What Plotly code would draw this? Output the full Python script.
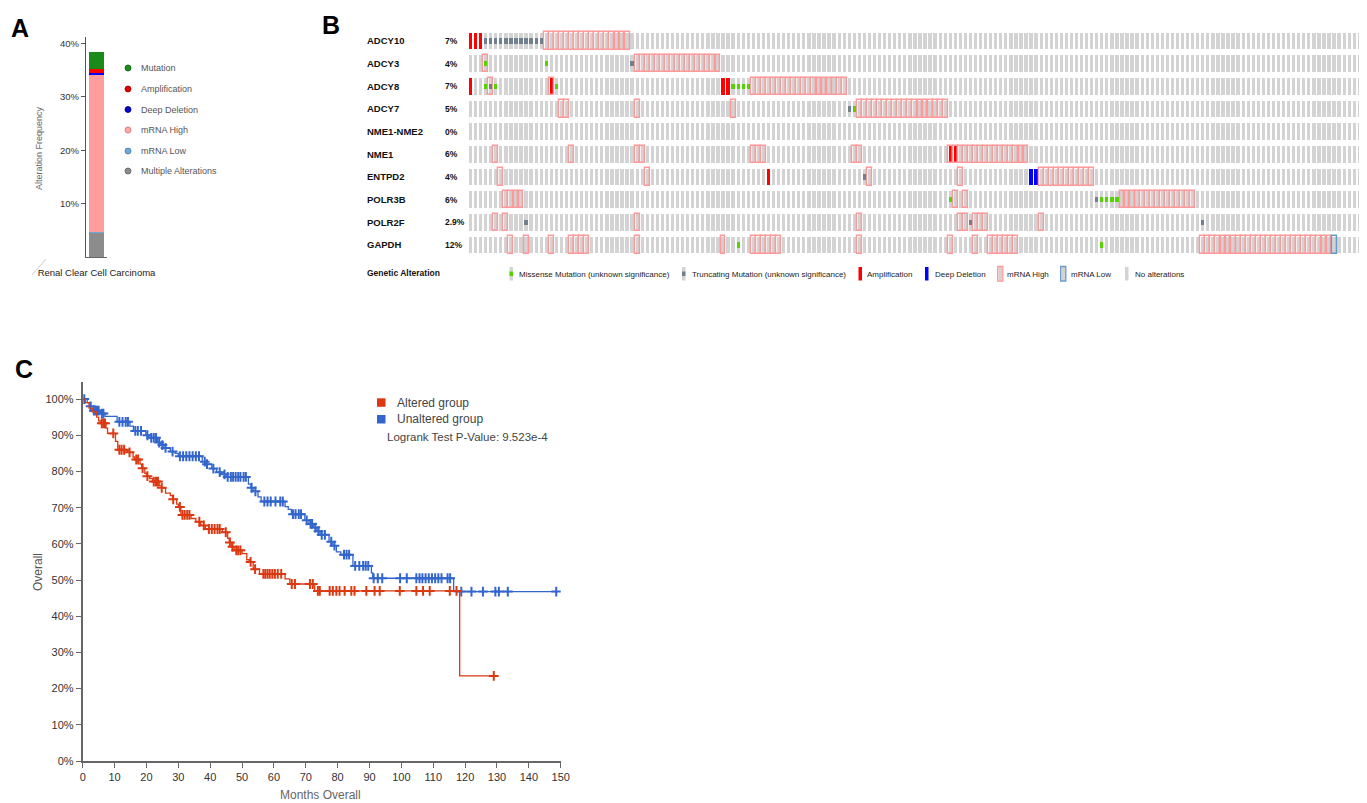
import numpy as np
import plotly.graph_objects as go

W, H = 1367, 803
FONT = "Liberation Sans, Arial, sans-serif"
OFF = 8  # page body margin in the browser


def px(x):
    return (x - OFF) / W


def py(y):
    return 1 - (y - OFF) / H


# ---------------- Panel A data ----------------
a_cancer = "Renal Clear Cell Carcinoma"
a_types = ["Multiple Alterations", "mRNA Low", "mRNA High", "Deep Deletion", "Amplification", "Mutation"]
a_freq = [4.6, 0.2, 29.4, 0.4, 0.7, 3.2]
a_colors = ["#8c8c8c", "#6fa8dc", "#ff9c9c", "#0000ff", "#ff0000", "#1a8a1a"]
a_legend = ["Mutation", "Amplification", "Deep Deletion", "mRNA High", "mRNA Low", "Multiple Alterations"]
a_legend_colors = ["#1a8a1a", "#e00000", "#0000cc", "#ffaaaa", "#6fa8dc", "#8c8c8c"]
a_legend_edges = ["#0b5e0b", "#900000", "#000080", "#d07070", "#3f78a8", "#5c5c5c"]
a_ticks = [10, 20, 30, 40]

# ---------------- Panel B data ----------------
genes = ["ADCY10", "ADCY3", "ADCY8", "ADCY7", "NME1-NME2", "NME1", "ENTPD2", "POLR3B", "POLR2F", "GAPDH"]
gene_pct = ["7%", "4%", "7%", "5%", "0%", "6%", "4%", "6%", "2.9%", "12%"]
n_samples = 178

amplification = {
    "ADCY10": [0, 1, 2],
    "ADCY8": [0, 16, 50, 51],
    "NME1": [95, 96],
    "ENTPD2": [59],
}
deep_deletion = {"ENTPD2": [111, 112]}
missense = {
    "ADCY3": [3, 15],
    "ADCY8": [3, 5, 17, 52, 53, 54, 55],
    "ADCY7": [76],
    "POLR3B": [95, 125, 126, 127, 128],
    "GAPDH": [53, 125],
}
truncating = {
    "ADCY10": [3, 4, 5, 6, 7, 8, 9, 10, 11, 12, 13, 14],
    "ADCY3": [32],
    "ADCY8": [4],
    "ADCY7": [75],
    "ENTPD2": [78],
    "POLR3B": [124],
    "POLR2F": [11, 99, 145],
}
mrna_high = {
    "ADCY10": [15, 16, 17, 18, 19, 20, 21, 22, 23, 24, 25, 26, 27, 28, 29, 30, 31],
    "ADCY3": [3, 33, 34, 35, 36, 37, 38, 39, 40, 41, 42, 43, 44, 45, 46, 47, 48, 49],
    "ADCY8": [4, 16, 56, 57, 58, 59, 60, 61, 62, 63, 64, 65, 66, 67, 68, 69, 70, 71, 72, 73, 74],
    "ADCY7": [18, 19, 33, 52, 77, 78, 79, 80, 81, 82, 83, 84, 85, 86, 87, 88, 89, 90, 91, 92, 93, 94],
    "NME1": [5, 20, 33, 34, 56, 57, 58, 76, 77, 95, 96, 97, 98, 99, 100, 101, 102, 103, 104, 105,
             106, 107, 108, 109, 110],
    "ENTPD2": [6, 35, 79, 97, 113, 114, 115, 116, 117, 118, 119, 120, 121, 122, 123],
    "POLR3B": [7, 8, 9, 10, 96, 98, 129, 130, 131, 132, 133, 134, 135, 136, 137, 138, 139, 140,
               141, 142, 143],
    "POLR2F": [5, 7, 33, 77, 97, 98, 100, 101, 102, 113],
    "GAPDH": [8, 11, 16, 20, 21, 22, 23, 33, 50, 56, 57, 58, 59, 60, 61, 77, 95, 100, 103, 104,
              105, 106, 107, 108, 145, 146, 147, 148, 149, 150, 151, 152, 153, 154, 155, 156, 157,
              158, 159, 160, 161, 162, 163, 164, 165, 166, 167, 168, 169, 170],
}
mrna_low = {"GAPDH": [171]}

b_legend = ["Missense Mutation (unknown significance)", "Truncating Mutation (unknown significance)",
            "Amplification", "Deep Deletion", "mRNA High", "mRNA Low", "No alterations"]

# ---------------- Panel C data (Kaplan-Meier) ----------------
alt_step_months = [0, 0.8, 2.0, 3.0, 4.4, 5.0, 5.5, 7.3, 7.8, 10.3, 11.0, 14.0, 15.8, 16.3, 18.0,
                   18.5, 19.5, 20.0, 21.0, 22.0, 24.0, 24.8, 26.0, 27.5, 28.2, 29.5, 30.0, 30.8,
                   34.0, 35.5, 37.0, 38.5, 43.8, 45.5, 46.0, 46.8, 47.5, 50.0, 51.5, 52.3, 53.5,
                   55.5, 63.5, 65.0, 72.8, 118.3]
alt_step_surv = [100, 99.0, 97.5, 96.5, 95.0, 94.0, 93.3, 92.0, 90.5, 88.3, 86.0, 85.3, 84.0, 83.3,
                 82.0, 80.9, 79.5, 78.7, 78.0, 77.2, 76.0, 75.5, 74.0, 73.3, 72.3, 71.0, 70.2, 68.0,
                 67.0, 66.1, 65.1, 64.1, 63.2, 61.5, 60.4, 59.2, 58.2, 57.3, 55.6, 55.0, 53.0,
                 51.7, 50.3, 48.9, 47.0, 23.5]
alt_censor_months = [6.0, 6.5, 7.0, 9.6, 11.5, 12.2, 13.0, 14.7, 16.8, 17.4, 18.8, 20.3, 22.3, 23.0,
                     23.6, 24.8, 28.4, 30.5, 31.3, 32.0, 32.8, 33.5, 36.6, 38.0, 39.6, 40.5, 41.4,
                     42.3, 43.0, 44.9, 46.2, 47.0, 48.2, 48.8, 49.5, 52.7, 54.1, 56.7, 57.3, 58.0,
                     58.7, 59.5, 60.3, 61.2, 62.3, 65.6, 66.6, 71.3, 72.2, 73.8, 74.4, 77.5, 78.5,
                     79.6, 80.6, 82.2, 84.3, 85.3, 89.0, 91.6, 93.2, 99.5, 104.7, 106.8, 108.9,
                     115.2, 117.3, 129.0]

unalt_step_months = [0, 1.4, 2.3, 3.3, 5.5, 7.0, 10.8, 14.8, 15.9, 19.8, 20.8, 23.5, 24.5, 25.5,
                     27.5, 29.0, 30.0, 37.5, 38.5, 40.5, 42.0, 43.5, 45.0, 52.0, 52.8, 53.5, 55.0,
                     56.0, 63.5, 64.5, 65.5, 69.7, 71.0, 72.5, 73.5, 74.5, 77.3, 78.5, 79.6, 81.0,
                     84.8, 90.6, 91.0, 116.4]
unalt_step_surv = [100, 99.0, 98.0, 96.8, 96.0, 95.2, 93.7, 92.5, 91.2, 90.0, 89.3, 88.0, 87.3,
                   86.5, 85.5, 85.0, 84.2, 82.7, 82.0, 80.8, 79.8, 79.2, 78.5, 76.5, 75.5, 74.5,
                   73.0, 71.7, 70.3, 69.5, 68.2, 66.5, 65.5, 64.5, 63.5, 62.5, 60.6, 59.5, 57.8,
                   57.0, 53.9, 52.0, 50.5, 46.8]
unalt_censor_months = [0.5, 2.5, 3.5, 4.0, 4.5, 5.0, 6.0, 6.5, 11.5, 12.5, 13.5, 14.2, 16.5, 17.3,
                       18.3, 20.3, 21.5, 22.3, 23.0, 24.0, 25.0, 26.0, 28.2, 30.5, 31.5, 32.5, 33.5,
                       34.5, 35.5, 36.5, 38.3, 39.0, 41.0, 43.0, 44.5, 45.5, 46.5, 47.2, 48.0, 48.8,
                       49.5, 50.5, 51.2, 53.0, 54.2, 57.0, 58.0, 59.0, 60.5, 62.0, 62.8, 66.0, 66.8,
                       67.8, 68.5, 70.3, 71.5, 72.0, 73.0, 74.0, 75.0, 76.0, 78.0, 79.0, 82.0, 82.8,
                       83.6, 85.5, 86.8, 88.0, 88.8, 89.6, 91.3, 92.6, 94.0, 99.6, 101.7, 104.7,
                       105.7, 106.6, 107.6, 108.6, 109.6, 110.6, 111.6, 112.6, 114.5, 115.3, 118.8,
                       122.0, 125.6, 129.5, 130.6, 133.4, 148.6]
km_x_ticks = list(range(0, 151, 10))
km_y_ticks = list(range(0, 101, 10))

ALT_COLOR = "#dc3912"
UNALT_COLOR = "#3366cc"

fig = go.Figure()

# ================= Panel A =================
a_base = np.concatenate([[0], np.cumsum(a_freq)[:-1]])
for name, val, b, col in zip(a_types, a_freq, a_base, a_colors):
    fig.add_trace(go.Bar(x=[0], y=[val], base=[b], width=0.72, marker=dict(color=col, line=dict(width=0)),
                         xaxis="x", yaxis="y", showlegend=False, hoverinfo="skip", name=name))

# ================= Panel B =================
ROW_TOP0 = 32.7
ROW_PITCH = 22.67
CELL_H = 16.5
CELL_W = 0.65
row_top = {g: ROW_TOP0 + i * ROW_PITCH for i, g in enumerate(genes)}

gx, gb = [], []
for g in genes:
    for s in range(n_samples):
        gx.append(s)
        gb.append(row_top[g])
fig.add_trace(go.Bar(x=gx, y=[CELL_H] * len(gx), base=gb, width=CELL_W,
                     marker=dict(color="#d3d3d3", line=dict(width=0)),
                     xaxis="x2", yaxis="y2", showlegend=False, hoverinfo="skip"))


def add_cells(d, color, kind):
    xs, bs = [], []
    for g, idxs in d.items():
        for s in idxs:
            xs.append(s)
            bs.append(row_top[g])
    if kind == "full":
        fig.add_trace(go.Bar(x=xs, y=[CELL_H] * len(xs), base=bs, width=CELL_W,
                             marker=dict(color=color, line=dict(width=0)),
                             xaxis="x2", yaxis="y2", showlegend=False, hoverinfo="skip"))
    elif kind == "outline":
        fig.add_trace(go.Bar(x=xs, y=[CELL_H + 1.0] * len(xs), base=[b - 0.5 for b in bs], width=0.97,
                             marker=dict(color="rgba(0,0,0,0)", line=dict(width=1.4, color=color)),
                             xaxis="x2", yaxis="y2", showlegend=False, hoverinfo="skip"))
    else:
        fig.add_trace(go.Bar(x=xs, y=[CELL_H / 3] * len(xs), base=[b + CELL_H / 3 for b in bs],
                             width=CELL_W, marker=dict(color=color, line=dict(width=0)),
                             xaxis="x2", yaxis="y2", showlegend=False, hoverinfo="skip"))


add_cells(amplification, "#ff0000", "full")
add_cells(deep_deletion, "#0000ff", "full")
add_cells(mrna_high, "#ff9999", "outline")
add_cells(mrna_low, "#6699cc", "outline")
add_cells(missense, "#53d400", "mut")
add_cells(truncating, "#708090", "mut")

# ================= Panel C =================


def km_value(times, survs, t):
    i = np.searchsorted(np.array(times), t, side="right") - 1
    return survs[i]


for tms, sv, cens, col, nm in [
    (unalt_step_months, unalt_step_surv, unalt_censor_months, UNALT_COLOR, "Unaltered group"),
    (alt_step_months, alt_step_surv, alt_censor_months, ALT_COLOR, "Altered group"),
]:
    line_x = list(tms) + [max(cens)]
    line_y = list(sv) + [sv[-1]]
    fig.add_trace(go.Scatter(x=line_x, y=line_y, mode="lines", line=dict(color=col, width=1.3, shape="hv"),
                             xaxis="x3", yaxis="y3", showlegend=False, hoverinfo="skip", name=nm))
    cy = [km_value(tms, sv, c) for c in cens]
    fig.add_trace(go.Scatter(x=cens, y=cy, mode="markers",
                             marker=dict(symbol="cross-thin", size=7, line=dict(width=2, color=col), color=col),
                             xaxis="x3", yaxis="y3", showlegend=False, hoverinfo="skip", name=nm))

# ================= Layout =================
annotations = []
shapes = []


def txt(x, y, s, size, color="#222", bold=False, xanchor="left", yanchor="middle", angle=0):
    annotations.append(dict(x=px(x), y=py(y), xref="paper", yref="paper", text=(f"<b>{s}</b>" if bold else s),
                            showarrow=False, xanchor=xanchor, yanchor=yanchor, textangle=angle,
                            font=dict(family=FONT, size=size, color=color)))


# panel letters
txt(20, 28, "A", 25, "#000", True, "center")
txt(331, 25, "B", 25, "#000", True, "center")
txt(24, 369, "C", 25, "#000", True, "center")

# Panel A extras
txt(39, 148, "Alteration Frequency", 9, "#666", False, "center", "middle", -90)
leg_y = [68, 89, 109.5, 130, 151, 171]
for lbl, ly, c, e in zip(a_legend, leg_y, a_legend_colors, a_legend_edges):
    shapes.append(dict(type="circle", xref="paper", yref="paper", x0=px(125), x1=px(131), y0=py(ly - 3), y1=py(ly + 3),
                       fillcolor=c, line=dict(color=e, width=0.8)))
    txt(139, ly, lbl, 9, "#555")
shapes.append(dict(type="line", xref="paper", yref="paper", x0=px(32), y0=py(275), x1=px(46), y1=py(259),
                   line=dict(color="#cccccc", width=1)))

# Panel B labels
for g, p in zip(genes, gene_pct):
    cy = row_top[g] + CELL_H / 2
    txt(365, cy, g, 9.5, "#111", True)
    txt(442.5, cy, p, 8.5, "#111", True)
txt(365, 272.5, "Genetic Alteration", 8.5, "#111", True)

LG_T, LG_B = 267, 280.5
leg_items = [
    (509.5, "mut", "#53d400", 516.5),
    (682.0, "mut", "#708090", 689.5),
    (858.5, "full", "#ff0000", 865.0),
    (925.0, "full", "#0000ff", 932.5),
    (998.5, "outline", "#ff9999", 1005.0),
    (1061.5, "outline", "#6699cc", 1069.0),
    (1125.0, "none", "#d3d3d3", 1132.5),
]
for (gx0, kind, col, tx), lbl in zip(leg_items, b_legend):
    if kind in ("mut", "none", "outline"):
        shapes.append(dict(type="rect", xref="paper", yref="paper", x0=px(gx0), x1=px(gx0 + 3.5),
                           y0=py(LG_B), y1=py(LG_T), fillcolor="#d3d3d3", line=dict(width=0)))
    if kind == "mut":
        shapes.append(dict(type="rect", xref="paper", yref="paper", x0=px(gx0), x1=px(gx0 + 3.5),
                           y0=py(LG_T + 9), y1=py(LG_T + 4.5), fillcolor=col, line=dict(width=0)))
    elif kind == "full":
        shapes.append(dict(type="rect", xref="paper", yref="paper", x0=px(gx0), x1=px(gx0 + 3.5),
                           y0=py(LG_B), y1=py(LG_T), fillcolor=col, line=dict(width=0)))
    elif kind == "outline":
        shapes.append(dict(type="rect", xref="paper", yref="paper", x0=px(gx0 - 0.8), x1=px(gx0 + 4.3),
                           y0=py(LG_B + 0.5), y1=py(LG_T - 0.5), fillcolor="rgba(0,0,0,0)",
                           line=dict(width=1.3, color=col)))
    txt(tx, 274, lbl, 8, "#222")

# Panel C legend & titles
shapes.append(dict(type="rect", xref="paper", yref="paper", x0=px(377), x1=px(385.5), y0=py(406.8), y1=py(398.3),
                   fillcolor=ALT_COLOR, line=dict(width=0)))
shapes.append(dict(type="rect", xref="paper", yref="paper", x0=px(377), x1=px(385.5), y0=py(423.5), y1=py(415),
                   fillcolor=UNALT_COLOR, line=dict(width=0)))
txt(395, 402.5, "Altered group", 12, "#444")
txt(395, 419, "Unaltered group", 12, "#444")
txt(385, 437, "Logrank Test P-Value: 9.523e-4", 11.5, "#444")
txt(38, 572, "Overall", 12, "#555", False, "center", "middle", -90)
txt(320, 795, "Months Overall", 12, "#666", False, "center")

fig.update_layout(
    width=W, height=H, autosize=False,
    margin=dict(l=0, r=0, t=0, b=0, pad=0, autoexpand=False),
    paper_bgcolor="white", plot_bgcolor="white",
    barmode="overlay", bargap=0,
    showlegend=False,
    font=dict(family=FONT, color="#333"),
    annotations=annotations,
    shapes=shapes,
    xaxis=dict(domain=[px(86), px(107)], range=[-0.5, 0.5], tickvals=[0], ticktext=[a_cancer],
               showline=True, linecolor="#666", linewidth=1, ticks="", showgrid=False, zeroline=False,
               automargin=False,
               tickfont=dict(size=9.5, color="#222", family=FONT), ticklabelstandoff=7, anchor="y", fixedrange=True),
    yaxis=dict(domain=[py(257), py(36.7)], range=[0, 41.3], tickvals=a_ticks,
               ticktext=[f"{t}%" for t in a_ticks], showline=True, linecolor="#555", linewidth=1.3,
               ticks="outside", ticklen=4, tickcolor="#555", showgrid=False, zeroline=False,
               automargin=False,
               tickfont=dict(size=9.5, color="#333", family=FONT), anchor="x", fixedrange=True),
    xaxis2=dict(domain=[px(468.1), px(1367)], range=[-0.5, n_samples - 0.5], visible=False, anchor="y2",
                automargin=False),
    yaxis2=dict(domain=[py(258), py(30)], range=[258, 30], visible=False, anchor="x2", automargin=False),
    xaxis3=dict(domain=[px(82.7), px(560.7)], range=[0, 150], tickvals=km_x_ticks,
                showline=True, linecolor="#666", linewidth=1.8, ticks="outside", ticklen=5, tickcolor="#666",
                showgrid=False, zeroline=False, automargin=False,
                tickfont=dict(size=11, color="#333", family=FONT), anchor="y3"),
    yaxis3=dict(domain=[py(761), py(381.7)], range=[0, 104.8], tickvals=km_y_ticks,
                ticktext=[f"{t}%" for t in km_y_ticks], showline=True, linecolor="#666", linewidth=1.8,
                ticks="outside", ticklen=5, tickcolor="#666", showgrid=False, zeroline=False,
                automargin=False,
                tickfont=dict(size=11, color="#333", family=FONT), anchor="x3"),
)

fig.write_html("out.html")
